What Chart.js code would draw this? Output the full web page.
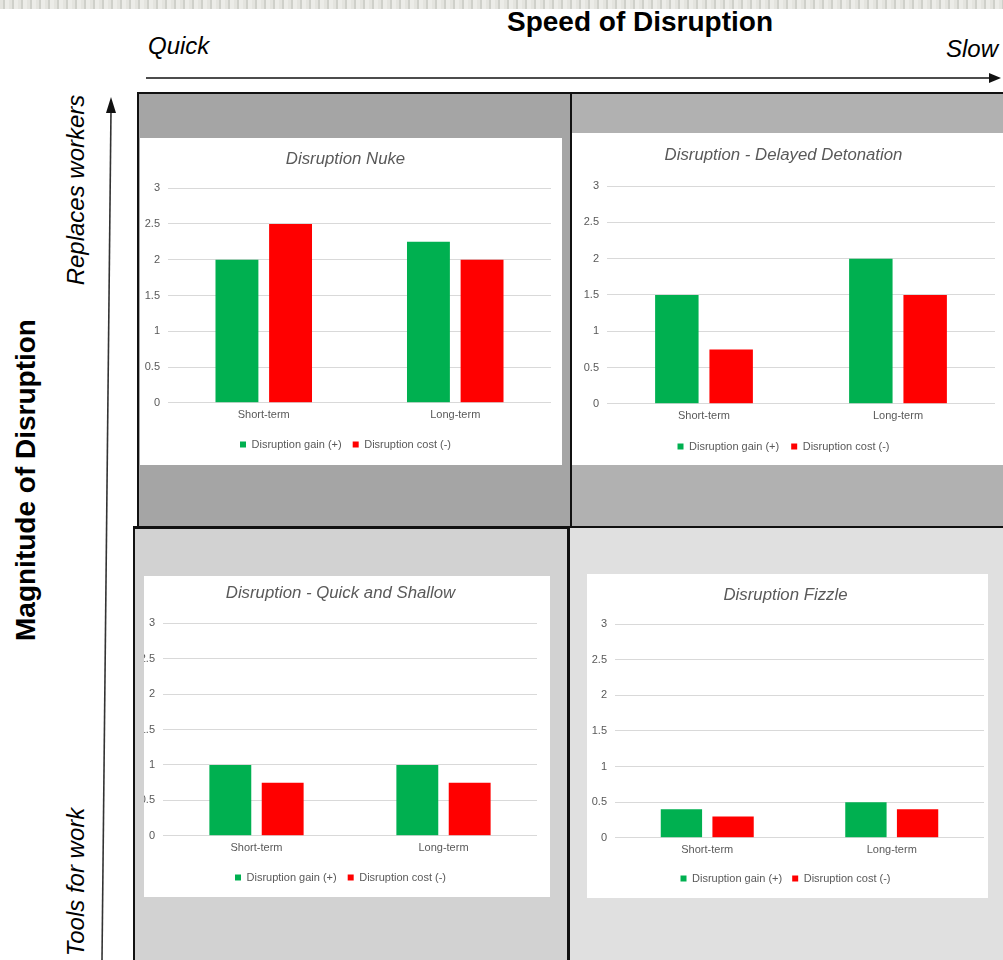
<!DOCTYPE html>
<html>
<head>
<meta charset="utf-8">
<script src="https://cdn.jsdelivr.net/npm/chart.js@4.4.1/dist/chart.umd.min.js"></script>
<style>
  body { margin: 0; background: #fff; }
  #page { position: relative; width: 1003px; height: 960px; overflow: hidden; font-family: "Liberation Sans", Arial, sans-serif; }
  #texture { position: absolute; left: 0; top: 0; width: 1003px; height: 9px;
    background: repeating-linear-gradient(90deg, #e4e4df 0 3px, #cfd0ca 3px 5px, #ecece8 5px 9px); }
  .quad { position: absolute; box-sizing: border-box; border: 2px solid #111; }
  .panel { position: absolute; background: #fff; overflow: hidden; }
  .lbl { position: absolute; white-space: nowrap; color: #000; line-height: 1; }
  .rot { transform-origin: center center; transform: translate(-50%, -50%) rotate(-90deg); }
  svg { position: absolute; left: 0; top: 0; }
</style>
</head>
<body>
<div id="page">
  <div id="texture"></div>

  <div class="lbl" style="left:640px;top:22px;transform:translate(-50%,-50%);font-weight:bold;font-size:28px;">Speed of Disruption</div>
  <div class="lbl" style="left:148px;top:46px;transform:translateY(-50%);font-style:italic;font-size:24px;">Quick</div>
  <div class="lbl" style="right:5px;top:49px;transform:translateY(-50%);font-style:italic;font-size:24px;">Slow</div>
  <div class="lbl rot" style="left:26px;top:480px;font-weight:bold;font-size:28px;">Magnitude of Disruption</div>
  <div class="lbl rot" style="left:76px;top:190px;font-style:italic;font-size:24px;">Replaces workers</div>
  <div class="lbl rot" style="left:76px;top:882px;font-style:italic;font-size:24px;">Tools for work</div>

  <svg width="1003" height="960">
    <line x1="146" y1="78" x2="992" y2="78" stroke="#111" stroke-width="1.6"/>
    <polygon points="989,73 1001,78 989,83" fill="#111"/>
    <line x1="102" y1="960" x2="111" y2="110" stroke="#333" stroke-width="1.6"/>
    <polygon points="106,113 111,97 116,113" fill="#111"/>
  </svg>

  <div class="quad" style="left:570px;top:92px;width:440px;height:437px;background:#b1b1b1;"></div>
  <div class="quad" style="left:137px;top:92px;width:435px;height:437px;background:#a5a5a5;"></div>
  <div class="quad" style="left:567px;top:526px;width:443px;height:440px;background:#e0e0e0;border-width:2px 0 0 3px;"></div>
  <div class="quad" style="left:133px;top:526px;width:437px;height:440px;background:#d2d2d2;border-width:3px 3px 0 2px;"></div>

  <div class="panel" style="left:140px;top:138px;width:422px;height:327px;"><canvas id="nuke"></canvas></div>
  <div class="panel" style="left:572px;top:133px;width:431px;height:332px;"><canvas id="delayed"></canvas></div>
  <div class="panel" style="left:144px;top:576px;width:406px;height:321px;"><canvas id="shallow"></canvas></div>
  <div class="panel" style="left:587px;top:574px;width:401px;height:324px;"><canvas id="fizzle"></canvas></div>
</div>

<script>
// values
const categories = ['Short-term', 'Long-term'];
const seriesNames = ['Disruption gain (+)', 'Disruption cost (-)'];
const nukeGain = [2, 2.25];
const nukeCost = [2.5, 2];
const delayedGain = [1.5, 2];
const delayedCost = [0.75, 1.5];
const shallowGain = [1, 1];
const shallowCost = [0.75, 0.75];
const fizzleGain = [0.4, 0.5];
const fizzleCost = [0.3, 0.4];
const yMax = 3;
const yStep = 0.5;

const GREEN = '#00b050';
const RED = '#ff0000';
const GREY_TEXT = '#595959';

Chart.defaults.font.family = '"Liberation Sans", Arial, sans-serif';
Chart.defaults.color = GREY_TEXT;
Chart.defaults.animation = false;

// one Excel-style clustered column chart per quadrant
function quadChart(id, title, gain, cost, box) {
  return new Chart(document.getElementById(id), {
    type: 'bar',
    data: {
      labels: categories,
      datasets: [
        { label: seriesNames[0], data: gain, backgroundColor: GREEN },
        { label: seriesNames[1], data: cost, backgroundColor: RED },
      ],
    },
    options: {
      responsive: true,
      maintainAspectRatio: false,
      categoryPercentage: 0.56,
      barPercentage: 0.8,
      layout: { padding: { left: 0, right: box.right, top: 0, bottom: box.bottom } },
      plugins: {
        title: {
          display: true,
          text: title,
          color: GREY_TEXT,
          font: { size: 16.8, style: 'italic', weight: 'normal' },
          padding: { top: box.titleTop, bottom: box.titleBottom },
        },
        legend: {
          position: 'bottom',
          labels: { boxWidth: 6, boxHeight: 6, padding: box.legendPad, font: { size: 11 }, color: GREY_TEXT },
        },
        tooltip: { enabled: false },
      },
      scales: {
        x: {
          grid: { display: false, drawTicks: false },
          border: { display: false },
          ticks: { padding: 6, font: { size: 11 } },
        },
        y: {
          min: 0,
          max: yMax,
          grid: { color: '#d9d9d9', drawTicks: false },
          border: { display: false },
          ticks: { stepSize: yStep, padding: 8, font: { size: 11 }, callback: (v) => String(v) },
          afterFit: (s) => { s.width = box.yw; },
        },
      },
    },
  });
}

quadChart('nuke', 'Disruption Nuke', nukeGain, nukeCost,
  { yw: 28, right: 11, titleTop: 11, titleBottom: 19, legendPad: 11, bottom: 5 });
quadChart('delayed', 'Disruption - Delayed Detonation', delayedGain, delayedCost,
  { yw: 35, right: 8, titleTop: 12, titleBottom: 21, legendPad: 12, bottom: 3 });
quadChart('shallow', 'Disruption - Quick and Shallow', shallowGain, shallowCost,
  { yw: 19, right: 13, titleTop: 7, titleBottom: 20, legendPad: 11, bottom: 4 });
quadChart('fizzle', 'Disruption Fizzle', fizzleGain, fizzleCost,
  { yw: 28, right: 4, titleTop: 11, titleBottom: 19, legendPad: 10, bottom: 4 });
</script>
</body>
</html>
